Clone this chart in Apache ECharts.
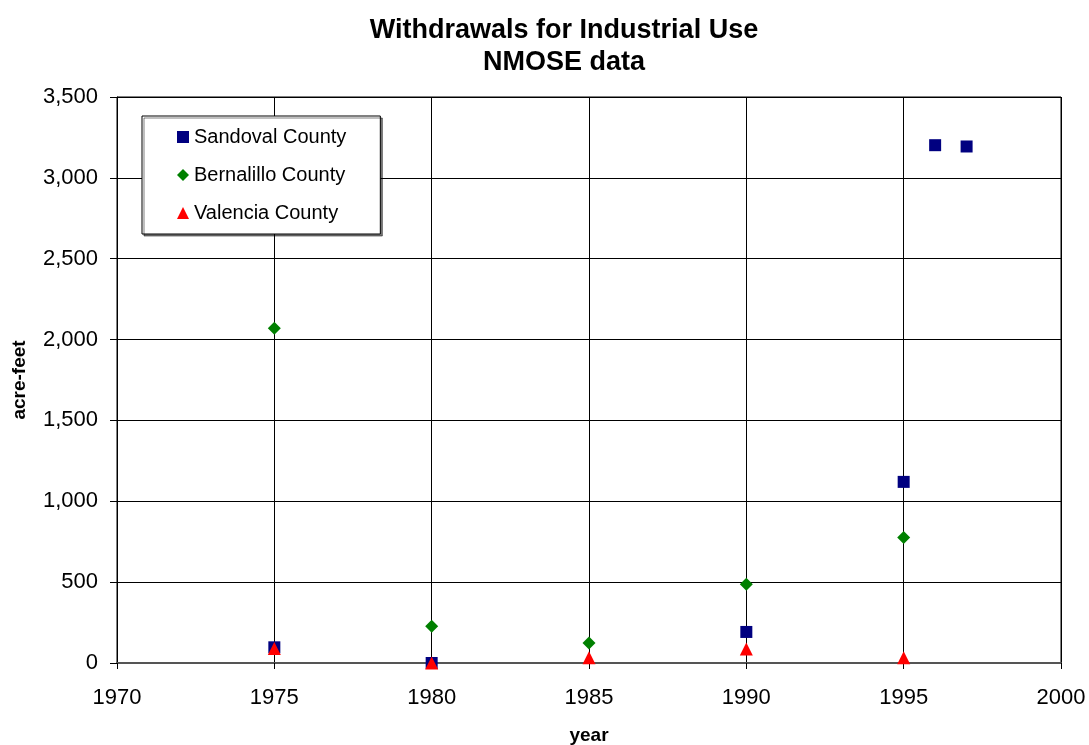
<!DOCTYPE html>
<html><head><meta charset="utf-8">
<script src="https://cdn.jsdelivr.net/npm/echarts@6/dist/echarts.min.js"></script>
<style>html,body{margin:0;padding:0;background:#fff}#c{width:1089px;height:745px}</style>
</head><body><div id="c"></div>
<script>
const titleLines = ['Withdrawals for Industrial Use', 'NMOSE data'];
const xAxisName = 'year';
const yAxisName = 'acre-feet';
const seriesNames = ['Sandoval County', 'Bernalillo County', 'Valencia County'];
const sandoval = [[1975, 97], [1980, 0], [1990, 192], [1995, 1120], [1996, 3202], [1997, 3194]];
const bernalillo = [[1975, 2070], [1980, 227], [1985, 124], [1990, 487], [1995, 776]];
const valencia = [[1975, 90], [1980, 0], [1985, 33], [1990, 87], [1995, 33]];
const colors = ['#000080', '#008000', '#ff0000'];
const symbols = ['rect', 'diamond', 'triangle'];
const symbolSizes = [12, 13, 13];

const chart = echarts.init(document.getElementById('c'), null, {renderer: 'canvas'});
const font = 'Liberation Sans, Arial, sans-serif';
const datas = [sandoval, bernalillo, valencia];
chart.setOption({
  animation: false,
  title: {
    text: titleLines.join('\n'),
    left: 559, top: 10, textAlign: 'center',
    textStyle: {fontFamily: font, fontSize: 27, fontWeight: 'bold', color: '#000', lineHeight: 32}
  },
  grid: {left: 117, right: 28, top: 97, bottom: 82, outerBoundsMode: 'none', containLabel: false,
    show: true, borderColor: '#000', borderWidth: 1, backgroundColor: '#fff'},
  legend: {
    orient: 'vertical', left: 142, top: 116,
    padding: [9, 34, 9, 35], itemGap: 14,
    backgroundColor: '#fff', borderColor: '#000', borderWidth: 1,
    shadowColor: 'rgba(0,0,0,0.5)', shadowOffsetX: 2, shadowOffsetY: 2, shadowBlur: 0,
    itemWidth: 12, itemHeight: 12,
    textStyle: {fontFamily: font, fontSize: 20, color: '#000', lineHeight: 24},
    data: seriesNames.map((n, i) => ({name: n, icon: symbols[i]}))
  },
  xAxis: {
    type: 'value', min: 1970, max: 2000, interval: 5,
    name: xAxisName, nameLocation: 'middle', nameGap: 63,
    nameTextStyle: {fontFamily: font, fontSize: 19, fontWeight: 'bold', color: '#000'},
    axisLine: {show: true, onZero: false, lineStyle: {color: '#555', width: 2}},
    axisTick: {show: true, inside: false, length: 6, lineStyle: {color: '#000'}},
    axisLabel: {fontFamily: font, fontSize: 22, color: '#000', margin: 24, formatter: v => String(v)},
    splitLine: {show: true, lineStyle: {color: '#000', width: 1}}
  },
  yAxis: {
    type: 'value', min: 0, max: 3500, interval: 500,
    name: yAxisName, nameLocation: 'middle', nameGap: 88, nameRotate: 90,
    nameTextStyle: {fontFamily: font, fontSize: 19, fontWeight: 'bold', color: '#000'},
    axisLine: {show: true, lineStyle: {color: '#000', width: 1}},
    axisTick: {show: true, inside: false, length: 7, lineStyle: {color: '#000'}},
    axisLabel: {fontFamily: font, fontSize: 22, color: '#000', margin: 19,
      formatter: v => v.toLocaleString('en-US')},
    splitLine: {show: true, lineStyle: {color: '#000', width: 1}}
  },
  series: seriesNames.map((n, i) => ({
    name: n, type: 'scatter', data: datas[i],
    symbol: symbols[i], symbolSize: symbolSizes[i],
    itemStyle: {color: colors[i], opacity: 1},
    z: 3 + i
  }))
});
</script></body></html>
